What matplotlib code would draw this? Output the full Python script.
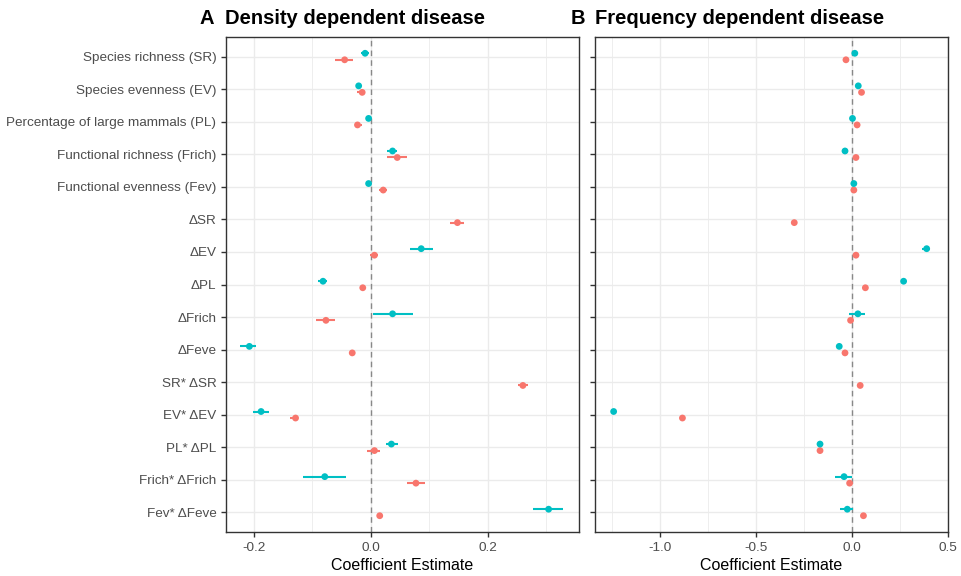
import matplotlib
matplotlib.use("Agg")
import matplotlib.pyplot as plt
import numpy as np
from matplotlib.ticker import FixedLocator, FuncFormatter

plt.rcParams['font.family'] = ['Liberation Sans', 'DejaVu Sans']

categories = ["Species richness (SR)", "Species evenness (EV)", "Percentage of large mammals (PL)",
              "Functional richness (Frich)", "Functional evenness (Fev)",
              "\u0394SR", "\u0394EV", "\u0394PL", "\u0394Frich", "\u0394Feve",
              "SR* \u0394SR", "EV* \u0394EV", "PL* \u0394PL", "Frich* \u0394Frich", "Fev* \u0394Feve"]

nan = np.nan
# Panel A: density dependent disease
a_cyan_est = [-0.010, -0.021, -0.004, 0.037, -0.004, nan, 0.086, -0.082, 0.037, -0.208, nan, -0.188, 0.035, -0.079, 0.304]
a_cyan_lo  = [-0.017, -0.024, -0.006, 0.027, -0.006, nan, 0.066, -0.090, 0.003, -0.224, nan, -0.201, 0.025, -0.116, 0.277]
a_cyan_hi  = [-0.004, -0.018, -0.002, 0.045, -0.002, nan, 0.106, -0.075, 0.072, -0.197, nan, -0.174, 0.046, -0.042, 0.329]
a_red_est  = [-0.045, -0.015, -0.023, 0.045, 0.021, 0.148, 0.006, -0.014, -0.077, -0.032, 0.260, -0.129, 0.006, 0.077, 0.015]
a_red_lo   = [-0.061, -0.023, -0.028, 0.027, 0.014, 0.136, -0.002, -0.017, -0.094, -0.037, 0.251, -0.138, -0.006, 0.062, 0.010]
a_red_hi   = [-0.031, -0.010, -0.016, 0.061, 0.027, 0.159, 0.012, -0.011, -0.061, -0.027, 0.269, -0.124, 0.016, 0.093, 0.020]

# Panel B: frequency dependent disease
b_cyan_est = [0.015, 0.033, 0.003, -0.036, 0.010, nan, 0.389, 0.269, 0.031, -0.066, nan, -1.240, -0.166, -0.041, -0.024]
b_cyan_lo  = [0.010, 0.028, -0.002, -0.041, 0.005, nan, 0.365, 0.262, -0.014, -0.080, nan, -1.250, -0.172, -0.088, -0.060]
b_cyan_hi  = [0.020, 0.038, 0.008, -0.031, 0.015, nan, 0.408, 0.276, 0.069, -0.052, nan, -1.230, -0.160, -0.002, 0.007]
b_red_est  = [-0.031, 0.050, 0.027, 0.021, 0.010, -0.300, 0.021, 0.070, -0.007, -0.036, 0.043, -0.882, -0.166, -0.012, 0.060]
b_red_lo   = [-0.035, 0.046, 0.023, 0.017, 0.006, -0.305, 0.017, 0.066, -0.011, -0.040, 0.039, -0.887, -0.170, -0.016, 0.056]
b_red_hi   = [-0.027, 0.054, 0.031, 0.025, 0.014, -0.295, 0.025, 0.074, -0.003, -0.032, 0.047, -0.877, -0.162, -0.008, 0.064]

CYAN = "#00BFC4"
RED = "#F8766D"

fig = plt.figure(figsize=(9.62, 5.76), dpi=100)
axA = fig.add_axes([226/962, 1-532/576, (579-226)/962, (532-37)/576])
axB = fig.add_axes([595/962, 1-532/576, (948-595)/962, (532-37)/576])

n = len(categories)
ypos = np.arange(n)

def draw(ax, c_est, c_lo, c_hi, r_est, r_lo, r_hi, major, minor, xlim):
    c_est = np.array(c_est); r_est = np.array(r_est)
    ax.axvline(0, color="#888888", ls=(0, (4, 3)), lw=1.0, zorder=1)
    for est, lo, hi, col, off in [(r_est, r_lo, r_hi, RED, 0.1), (c_est, c_lo, c_hi, CYAN, -0.1)]:
        lo = np.array(lo); hi = np.array(hi)
        ax.hlines(ypos + off, lo, hi, color=col, lw=1.5, zorder=2)
        ax.scatter(est, ypos + off, s=24, color=col, zorder=3, edgecolors='none')
    ax.set_ylim(n - 1 + 0.6, -0.6)
    ax.set_xlim(*xlim)
    ax.xaxis.set_major_locator(FixedLocator(major))
    ax.xaxis.set_minor_locator(FixedLocator(minor))
    ax.set_yticks(ypos)
    ax.grid(True, which='major', color="#EBEBEB", lw=1.0, zorder=0)
    ax.grid(True, which='minor', axis='x', color="#EBEBEB", lw=0.6, zorder=0)
    ax.set_axisbelow(True)
    for s in ax.spines.values():
        s.set_color("#333333")
        s.set_linewidth(1.0)
    ax.tick_params(axis='both', which='major', color="#333333", length=3.5, width=1.0,
                   labelcolor="#4D4D4D", labelsize=9.7)
    ax.tick_params(axis='x', which='minor', length=0)
    ax.xaxis.set_major_formatter(FuncFormatter(lambda v, p: f"{v:.1f}"))
    ax.set_xlabel("Coefficient Estimate", fontsize=11.5, color="black", labelpad=3)

draw(axA, a_cyan_est, a_cyan_lo, a_cyan_hi, a_red_est, a_red_lo, a_red_hi,
     [-0.2, 0.0, 0.2], [-0.1, 0.1, 0.3], (-0.248, 0.356))
draw(axB, b_cyan_est, b_cyan_lo, b_cyan_hi, b_red_est, b_red_lo, b_red_hi,
     [-1.0, -0.5, 0.0, 0.5], [-1.25, -0.75, -0.25, 0.25], (-1.337, 0.5))

axA.set_yticklabels(categories)
axB.set_yticklabels([])

fig.text(200/962, 1-24/576, "A", fontsize=14.5, fontweight='bold', ha='left', va='baseline')
fig.text(225/962, 1-24/576, "Density dependent disease", fontsize=14.5, fontweight='bold', ha='left', va='baseline')
fig.text(571/962, 1-24/576, "B", fontsize=14.5, fontweight='bold', ha='left', va='baseline')
fig.text(595/962, 1-24/576, "Frequency dependent disease", fontsize=14.5, fontweight='bold', ha='left', va='baseline')

fig.savefig("out.png", dpi=100, facecolor="white")
